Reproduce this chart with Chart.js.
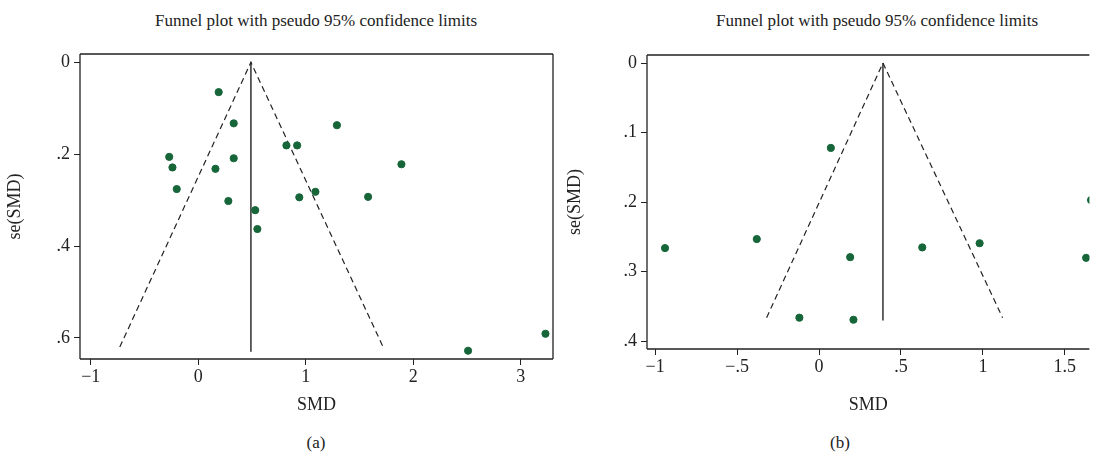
<!DOCTYPE html>
<html><head><meta charset="utf-8">
<script src="https://cdn.jsdelivr.net/npm/chart.js@4"></script>
<style>
body{margin:0;background:#fff;font-family:"Liberation Serif",serif;}
#wrap{position:relative;width:1094px;height:457px;overflow:hidden;}
.t{position:absolute;font-size:17px;color:#222;white-space:nowrap;transform:translateX(-50%);}
</style></head><body>
<div id="wrap">
  <div class="t" style="left:316px;top:11px">Funnel plot with pseudo 95% confidence limits</div>
  <div class="t" style="left:877px;top:11px">Funnel plot with pseudo 95% confidence limits</div>
  <div class="t" style="left:316px;top:433px">(a)</div>
  <div class="t" style="left:840px;top:433px">(b)</div>
  <canvas id="ca" style="position:absolute;left:0;top:0"></canvas>
  <canvas id="cb" style="position:absolute;left:560px;top:0"></canvas>
</div>
<script>
// panel (a)
var smdA = [0.19, 0.33, 1.29, 0.82, 0.92, -0.27, 0.33, -0.24, 0.16, 1.89, -0.20, 1.09, 0.94, 1.58, 0.28, 0.53, 0.55, 2.51, 3.23];
var seA  = [0.065, 0.133, 0.137, 0.181, 0.181, 0.206, 0.209, 0.229, 0.232, 0.222, 0.276, 0.282, 0.294, 0.293, 0.302, 0.322, 0.363, 0.628, 0.591];
var funnelA = {center: 0.49, left: -0.73, right: 1.72, bottom: 0.62, stem: 0.63};
var xTicksA = [-1, 0, 1, 2, 3];
var yTicksA = [0, 0.2, 0.4, 0.6];

// panel (b)
var smdB = [0.072, -0.94, -0.38, 0.19, 0.63, 0.98, 1.63, 1.66, -0.12, 0.21];
var seB  = [0.122, 0.266, 0.253, 0.279, 0.265, 0.259, 0.280, 0.197, 0.366, 0.369];
var funnelB = {center: 0.39, left: -0.32, right: 1.12, bottom: 0.366, stem: 0.37};
var xTicksB = [-1, -0.5, 0, 0.5, 1, 1.5];
var yTicksB = [0, 0.1, 0.2, 0.3, 0.4];

var green = '#17663a';
var ink = '#222';
var font = {family: '"Liberation Serif", serif', size: 18};

function fmt(v){
  var s = String(Math.round(v*100)/100);
  return s.replace('-', '\u2212').replace(/^0\./, '.').replace(/^\u22120\./, '\u2212.');
}

function boxPlugin(sides){
  return {id: 'box', afterDraw: function(c){
    var a = c.chartArea, g = c.ctx;
    g.save(); g.strokeStyle = ink; g.lineWidth = 1.3; g.beginPath();
    if (sides.indexOf('t') >= 0){ g.moveTo(a.left, a.top); g.lineTo(a.right, a.top); }
    if (sides.indexOf('r') >= 0){ g.moveTo(a.right, a.top); g.lineTo(a.right, a.bottom); }
    if (sides.indexOf('b') >= 0){ g.moveTo(a.left, a.bottom); g.lineTo(a.right, a.bottom); }
    if (sides.indexOf('l') >= 0){ g.moveTo(a.left, a.top); g.lineTo(a.left, a.bottom); }
    g.stroke(); g.restore();
  }};
}

function makeChart(id, w, h, xs, ys, fn, xt, yt, xr, yr, pad, yw, xh, sides){
  var cv = document.getElementById(id);
  cv.width = w; cv.height = h; cv.style.width = w+'px'; cv.style.height = h+'px';
  var pts = xs.map(function(x, i){ return {x: x, y: ys[i]}; });
  return new Chart(cv, {
    type: 'scatter',
    data: {datasets: [
      {data: pts, backgroundColor: green, borderColor: green, pointRadius: 3.6, pointHoverRadius: 3.6},
      {type: 'line', data: [{x: fn.left, y: fn.bottom}, {x: fn.center, y: 0}, {x: fn.right, y: fn.bottom}],
       borderColor: ink, borderWidth: 1.2, borderDash: [6, 4], pointRadius: 0, fill: false, tension: 0},
      {type: 'line', data: [{x: fn.center, y: 0}, {x: fn.center, y: fn.stem}],
       borderColor: ink, borderWidth: 1.4, pointRadius: 0, fill: false}
    ]},
    options: {
      responsive: false, animation: false, devicePixelRatio: 1,
      layout: {padding: pad},
      plugins: {legend: {display: false}, tooltip: {enabled: false}},
      scales: {
        x: {type: 'linear', min: xr[0], max: xr[1],
            afterBuildTicks: function(s){ s.ticks = xt.map(function(v){ return {value: v}; }); },
            afterFit: function(s){ s.height = xh; },
            ticks: {font: font, color: ink, padding: 1, callback: fmt, maxRotation: 0},
            grid: {drawOnChartArea: false, color: ink, tickLength: 6, tickColor: ink},
            border: {display: false},
            title: {display: true, text: 'SMD', font: font, color: ink, padding: {top: 2}}},
        y: {type: 'linear', reverse: true, min: yr[0], max: yr[1],
            afterBuildTicks: function(s){ s.ticks = yt.map(function(v){ return {value: v}; }); },
            afterFit: function(s){ s.width = yw; },
            ticks: {font: font, color: ink, padding: 4, callback: fmt},
            grid: {drawOnChartArea: false, color: ink, tickLength: 6, tickColor: ink},
            border: {display: false},
            title: {display: true, text: 'se(SMD)', font: font, color: ink, padding: {bottom: 6}}}
      }
    },
    plugins: [boxPlugin(sides)]
  });
}

makeChart('ca', 560, 420, smdA, seA, funnelA, xTicksA, yTicksA, [-1.1, 3.3], [-0.018, 0.646],
  {left: 0, right: 7, top: 54, bottom: 0}, 80, 61, 'trbl');
makeChart('cb', 534, 420, smdB, seB, funnelB, xTicksB, yTicksB, [-1.05, 1.65], [-0.0115, 0.411],
  {left: 0, right: 0, top: 55, bottom: 0}, 87, 71, 'tbl');
</script>
</body></html>
